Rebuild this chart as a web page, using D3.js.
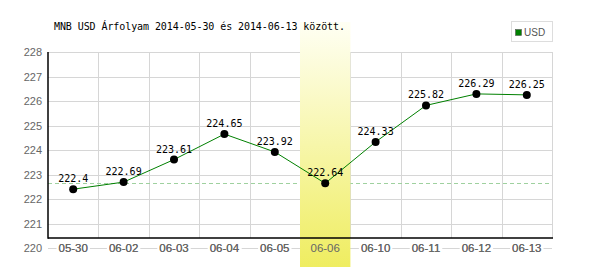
<!DOCTYPE html>
<html><head><meta charset="utf-8">
<script src="https://cdn.jsdelivr.net/npm/d3@7/dist/d3.min.js"></script>
<style>body{margin:0;background:#fff}svg{display:block}</style>
</head><body>
<svg id="c" width="600" height="270"></svg>
<script>
const categories = ["05-30","06-02","06-03","06-04","06-05","06-06","06-10","06-11","06-12","06-13"];
const values = [222.4,222.69,223.61,224.65,223.92,222.64,224.33,225.82,226.29,226.25];
const yTicks = [220,221,222,223,224,225,226,227,228];
const highlight = "06-06";
const refValue = 222.64;
const title = "MNB USD Árfolyam 2014-05-30 és 2014-06-13 között.";
const seriesName = "USD";

const svg = d3.select("#c");
const L = 48, R = 552, T = 52, B = 238;
const x = d3.scaleBand().domain(categories).range([L, R]);
const y = d3.scaleLinear().domain([220, 228]).range([248, 52]);

const defs = svg.append("defs");
const g = defs.append("linearGradient").attr("id","hl").attr("x1",0).attr("y1",0).attr("x2",0).attr("y2",1);
g.append("stop").attr("offset","0%").attr("stop-color","#fffff4");
g.append("stop").attr("offset","100%").attr("stop-color","#efed60");

// grid
svg.append("g").selectAll("line").data(yTicks.filter(d=>d>220)).join("line")
  .attr("x1",L).attr("x2",R).attr("y1",d=>Math.round(y(d))+0.5).attr("y2",d=>Math.round(y(d))+0.5)
  .attr("stroke","#d6d6d6").attr("stroke-width",1);
svg.append("g").selectAll("line").data(categories.slice(1)).join("line")
  .attr("x1",d=>Math.round(x(d))+0.5).attr("x2",d=>Math.round(x(d))+0.5).attr("y1",T).attr("y2",B)
  .attr("stroke","#d6d6d6");
svg.append("line").attr("x1",R+0.5).attr("x2",R+0.5).attr("y1",T).attr("y2",B).attr("stroke","#d6d6d6");
svg.append("line").attr("x1",L).attr("x2",R).attr("y1",Math.round(y(220))+0.5).attr("y2",Math.round(y(220))+0.5).attr("stroke","#d6d6d6");

// reference dashed line
svg.append("line").attr("x1",L).attr("x2",R).attr("y1",Math.round(y(refValue))+0.5).attr("y2",Math.round(y(refValue))+0.5)
  .attr("stroke","#9fd19f").attr("stroke-dasharray","4,3");

const xfont = "'Liberation Sans',Arial,sans-serif";
// x label backgrounds
const xl = svg.append("g").attr("font-family",xfont).attr("font-size","11.5px").attr("fill","#666");
const xt = xl.selectAll("text").data(categories).join("text")
  .attr("x",d=>x(d)+x.bandwidth()/2).attr("y",y(220)+4).attr("text-anchor","middle").text(d=>d);
xt.each(function(){
  const b=this.getBBox();
  xl.insert("rect","text").attr("x",b.x-2).attr("y",b.y).attr("width",b.width+4).attr("height",b.height).attr("fill","#fff");
});

// highlight band
svg.append("rect").attr("x",x(highlight)).attr("width",x.bandwidth()).attr("y",22).attr("height",245).attr("fill","url(#hl)");
svg.append("g").attr("font-family",xfont).attr("font-size","11.5px").attr("fill","#666")
  .selectAll("text").data(categories).join("text")
  .attr("x",d=>x(d)+x.bandwidth()/2).attr("y",y(220)+4).attr("text-anchor","middle").text(d=>d);

// axes lines
svg.append("line").attr("x1",L).attr("x2",L).attr("y1",T).attr("y2",B+0.75).attr("stroke","#000").attr("stroke-width",1.5);
svg.append("line").attr("x1",L).attr("x2",R+1).attr("y1",B).attr("y2",B).attr("stroke","#000").attr("stroke-width",1.5);

// y labels
svg.append("g").selectAll("text").data(yTicks).join("text")
  .attr("x",42).attr("y",d=>y(d)+4).attr("text-anchor","end")
  .attr("font-family",xfont).attr("font-size","11px").attr("fill","#666").text(d=>d);

// line
const cx = d=>x(d)+x.bandwidth()/2;
svg.append("path").datum(values).attr("fill","none").attr("stroke","#008000").attr("stroke-width",1)
  .attr("d", d3.line().x((d,i)=>cx(categories[i])).y(d=>y(d)));
svg.append("g").selectAll("circle").data(values).join("circle")
  .attr("cx",(d,i)=>cx(categories[i])).attr("cy",d=>y(d)).attr("r",4).attr("fill","#000");
svg.append("g").selectAll("text").data(values).join("text")
  .attr("x",(d,i)=>cx(categories[i])).attr("y",d=>y(d)-7).attr("text-anchor","middle")
  .attr("font-family","'DejaVu Sans Mono',monospace").attr("font-size","10px").attr("fill","#000").text(d=>d);

// title
svg.append("text").attr("x",54).attr("y",30).attr("font-family","'DejaVu Sans Mono',monospace")
  .attr("font-size","10px").attr("textLength",291).attr("lengthAdjust","spacing").attr("fill","#000").text(title);

// legend
svg.append("rect").attr("x",511.5).attr("y",21.5).attr("width",41).attr("height",20).attr("fill","#fff").attr("stroke","#ddd");
svg.append("rect").attr("x",515.5).attr("y",29.5).attr("width",6).attr("height",6).attr("fill","#008000").attr("stroke","#555").attr("stroke-width",0.6);
svg.append("text").attr("x",524).attr("y",36).attr("font-family",xfont)
  .attr("font-size","10px").attr("fill","#555").text(seriesName);
</script>
</body></html>
